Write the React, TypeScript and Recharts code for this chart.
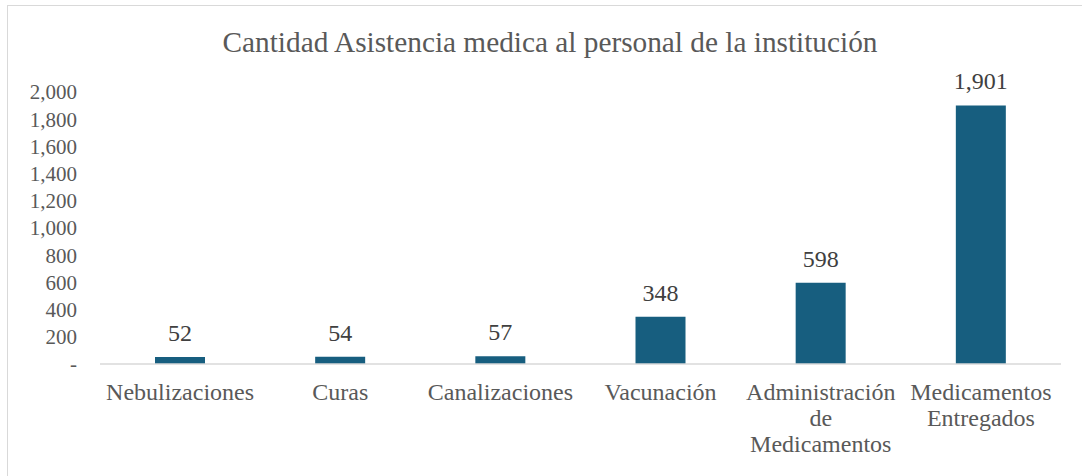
import React from "react";
import { BarChart, Bar, XAxis, YAxis, LabelList } from "recharts";

const categories = [
  "Nebulizaciones",
  "Curas",
  "Canalizaciones",
  "Vacunación",
  "Administración\nde\nMedicamentos",
  "Medicamentos\nEntregados",
];
const values = [52, 54, 57, 348, 598, 1901];
const yTicks = [0, 200, 400, 600, 800, 1000, 1200, 1400, 1600, 1800, 2000];
const title = "Cantidad Asistencia medica al personal de la institución";

const data = categories.map((c, i) => ({ name: c, value: values[i] }));

const FONT = "'Liberation Serif', 'Times New Roman', serif";
const TEXT = "#595959";

const fmt = (v: number) => (v === 0 ? "-" : v.toLocaleString("en-US"));

const CategoryTick = (props: any) => {
  const { x, y, payload } = props;
  const lines = String(payload.value).split("\n");
  return (
    <text
      x={x}
      y={y}
      textAnchor="middle"
      fill={TEXT}
      fontFamily={FONT}
      fontSize={24}
    >
      {lines.map((l, i) => (
        <tspan key={i} x={x} dy={i === 0 ? 36 : 26}>
          {l}
        </tspan>
      ))}
    </text>
  );
};

export default function App() {
  return (
    <div
      style={{
        position: "absolute",
        left: 0,
        top: 0,
        width: 1082,
        height: 476,
        overflow: "hidden",
        background: "#fff",
      }}
    >
      <style>{`.recharts-wrapper text { font-family: ${FONT}; }`}</style>
      <div
        style={{
          position: "absolute",
          left: 7,
          top: 5,
          width: 1200,
          height: 600,
          border: "1px solid #d9d9d9",
        }}
      />
      <div
        style={{
          position: "absolute",
          left: 0,
          width: 1100,
          top: 24,
          textAlign: "center",
          fontFamily: FONT,
          fontSize: 29.3,
          color: TEXT,
          lineHeight: "36px",
          whiteSpace: "nowrap",
        }}
      >
        {title}
      </div>
      <div style={{ position: "absolute", left: 0, top: 0 }}>
        <BarChart
          width={1082}
          height={476}
          data={data}
          margin={{ top: 92, right: 21, bottom: 12, left: 10 }}
          style={{ fontFamily: FONT }}
        >
          <XAxis
            dataKey="name"
            tick={<CategoryTick />}
            tickLine={false}
            tickSize={0}
            tickMargin={0}
            axisLine={{ stroke: "#d9d9d9", strokeWidth: 1.5 }}
            height={100}
            interval={0}
          />
          <YAxis
            domain={[0, 2000]}
            ticks={yTicks}
            tickFormatter={fmt}
            axisLine={false}
            tickLine={false}
            tickSize={0}
            tickMargin={23}
            width={90}
            interval={0}
            tick={{ fill: TEXT, fontFamily: FONT, fontSize: 21 }}
          />
          <Bar dataKey="value" fill="#175e7f" barSize={50} isAnimationActive={false}>
            <LabelList
              dataKey="value"
              position="top"
              offset={16}
              formatter={(v: any) => Number(v).toLocaleString("en-US")}
              style={{ fill: "#404040", fontFamily: FONT, fontSize: 24 }}
            />
          </Bar>
        </BarChart>
      </div>
    </div>
  );
}
